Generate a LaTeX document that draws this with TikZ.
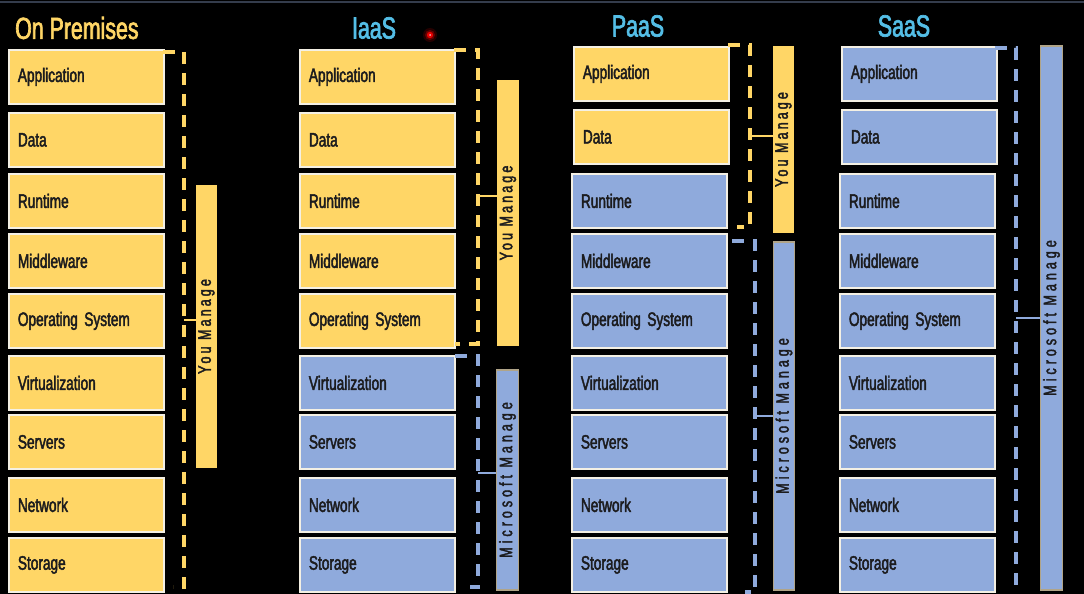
\documentclass[tikz,border=0pt]{standalone}
\usepackage{fontspec}
\setmainfont{Liberation Sans}[FakeStretch=0.70,FakeBold=2.2]
\newfontfamily\spacedfont{Liberation Sans}[FakeStretch=0.70,FakeBold=2.2,LetterSpace=17]
\newfontfamily\widespacedfont{Liberation Sans}[FakeStretch=0.70,FakeBold=2.2,LetterSpace=22]
\usetikzlibrary{calc}
\definecolor{bg}{RGB}{0,0,0}
\definecolor{topline}{RGB}{52,60,76}
\definecolor{ownyellow}{RGB}{255,214,102}
\definecolor{msblue}{RGB}{143,170,220}
\definecolor{celledge}{RGB}{244,240,228}
\definecolor{baredge}{RGB}{176,164,136}
\definecolor{celltext}{RGB}{28,28,30}
\definecolor{headblue}{RGB}{84,190,230}
\begin{document}
\begin{tikzpicture}[x=1pt,y=-1pt,
  cell/.style={rectangle,draw=celledge,line width=1.8pt,anchor=north west,
    minimum height=54pt,text width=137pt,inner xsep=9pt,inner ysep=0pt,align=left,
    text=celltext,font=\fontsize{19.5}{21}\selectfont},
  ycell/.style={cell,fill=ownyellow},
  bcell/.style={cell,fill=msblue},
  header/.style={font=\fontsize{30.5}{33}\selectfont,inner sep=0pt},
  bar/.style={rectangle,rotate=90,inner sep=0pt,text=celltext,minimum height=21.5pt},
  ybar/.style={bar,fill=ownyellow,font=\spacedfont\fontsize{18}{20}\selectfont},
  bbar/.style={bar,fill=msblue,draw=baredge,line width=1.2pt,font=\widespacedfont\fontsize{18}{20}\selectfont},
  bracket/.style={line width=3.6pt,dash pattern=on 12pt off 9pt},
  ybracket/.style={bracket,draw=ownyellow},
  bbracket/.style={bracket,draw=msblue},
  tick/.style={line width=2.6pt},
]
\useasboundingbox (0,0) rectangle (1084,594);
\fill[bg] (0,0) rectangle (1084,594);
\draw[topline,line width=1.5pt] (0,2) -- (1084,2);

% ---------- headers ----------
\node[header,anchor=west,text=ownyellow] (hop) at (15,28) {On Premises};
\node[header,text=headblue] (hiaas) at (374,28) {IaaS};
\node[header,text=headblue] (hpaas) at (638,26) {PaaS};
\node[header,text=headblue] (hsaas) at (904,26) {SaaS};

% pointer dot
\fill[red,opacity=0.15] (430,35) circle (7);
\fill[red,opacity=0.3] (430,35) circle (5);
\fill[red!90!black] (430,35) circle (3.2);
\fill[white,opacity=0.7] (430,35) circle (1);

% ---------- On Premises ----------
\node[ycell] (a1) at (8,49)  {Application};
\node[ycell] (d1) at (8,112) {Data};
\node[ycell] (r1) at (8,173) {Runtime};
\node[ycell] (m1) at (8,233) {Middleware};
\node[ycell] (o1) at (8,293) {Operating System};
\node[ycell] (v1) at (8,355) {Virtualization};
\node[ycell] (s1) at (8,414) {Servers};
\node[ycell] (n1) at (8,477) {Network};
\node[ycell] (t1) at (8,537) {Storage};

\coordinate (p1top) at (163,52);
\coordinate (p1bot) at (173,587);
\draw[ybracket] (p1top) -- (184,52) -- (184,587) -- (p1bot);
\node[ybar,minimum width=283pt] (ym1) at (206.5,326.5) {You Manage};
\coordinate (k1) at (184,320);
\draw[ownyellow,tick] (k1) -- (k1 -| ym1.north);

% ---------- IaaS ----------
\node[ycell] (a2) at (299,49)  {Application};
\node[ycell] (d2) at (299,112) {Data};
\node[ycell] (r2) at (299,173) {Runtime};
\node[ycell] (m2) at (299,233) {Middleware};
\node[ycell] (o2) at (299,293) {Operating System};
\node[bcell] (v2) at (299,355) {Virtualization};
\node[bcell] (s2) at (299,414) {Servers};
\node[bcell] (n2) at (299,477) {Network};
\node[bcell] (t2) at (299,537) {Storage};

\coordinate (p2ytop) at (454,50);
\coordinate (p2ybot) at (455,344);
\draw[ybracket] (p2ytop) -- (478,50) -- (478,344) -- (p2ybot);
\coordinate (p2btop) at (455,356);
\coordinate (p2bbot) at (470,587);
\draw[bbracket] (p2btop) -- (478,356) -- (478,587) -- (p2bbot);
\node[ybar,minimum width=266pt] (ym2) at (508,213) {You Manage};
\node[bbar,minimum width=220pt] (mm2) at (507.5,480) {Microsoft Manage};
\coordinate (k2y) at (478,196);
\coordinate (k2b) at (478,473);
\draw[ownyellow,tick] (k2y) -- (k2y -| ym2.north);
\draw[msblue,tick] (k2b) -- (k2b -| mm2.north);

% ---------- PaaS ----------
\node[ycell] (a3) at (573,46)  {Application};
\node[ycell] (d3) at (573,109) {Data};
\node[bcell] (r3) at (571,173) {Runtime};
\node[bcell] (m3) at (571,233) {Middleware};
\node[bcell] (o3) at (571,293) {Operating System};
\node[bcell] (v3) at (571,355) {Virtualization};
\node[bcell] (s3) at (571,414) {Servers};
\node[bcell] (n3) at (571,477) {Network};
\node[bcell] (t3) at (571,537) {Storage};

\coordinate (p3ytop) at (728,45);
\coordinate (p3ybot) at (737,227);
\draw[ybracket] (p3ytop) -- (750,45) -- (750,227) -- (p3ybot);
\coordinate (p3btop) at (732,241);
\coordinate (p3bbot) at (745,592);
\draw[bbracket] (p3btop) -- (755,241) -- (755,592) -- (p3bbot);
\node[ybar,minimum width=187pt] (ym3) at (783.5,139.5) {You Manage};
\node[bbar,minimum width=348pt] (mm3) at (784,416) {Microsoft Manage};
\coordinate (k3y) at (750,136);
\coordinate (k3b) at (755,416);
\draw[ownyellow,tick] (k3y) -- (k3y -| ym3.north);
\draw[msblue,tick] (k3b) -- (k3b -| mm3.north);

% ---------- SaaS ----------
\node[bcell] (a4) at (841,46)  {Application};
\node[bcell] (d4) at (841,109) {Data};
\node[bcell] (r4) at (839,173) {Runtime};
\node[bcell] (m4) at (839,233) {Middleware};
\node[bcell] (o4) at (839,293) {Operating System};
\node[bcell] (v4) at (839,355) {Virtualization};
\node[bcell] (s4) at (839,414) {Servers};
\node[bcell] (n4) at (839,477) {Network};
\node[bcell] (t4) at (839,537) {Storage};

\coordinate (p4top) at (995,48);
\coordinate (p4bot) at (1008,585);
\draw[bbracket] (p4top) -- (1016,48) -- (1016,585) -- (p4bot);
\node[bbar,minimum width=544pt] (mm4) at (1051.5,318) {Microsoft Manage};
\coordinate (k4) at (1016,318);
\draw[msblue,tick] (k4) -- (k4 -| mm4.north);
\end{tikzpicture}
\end{document}
